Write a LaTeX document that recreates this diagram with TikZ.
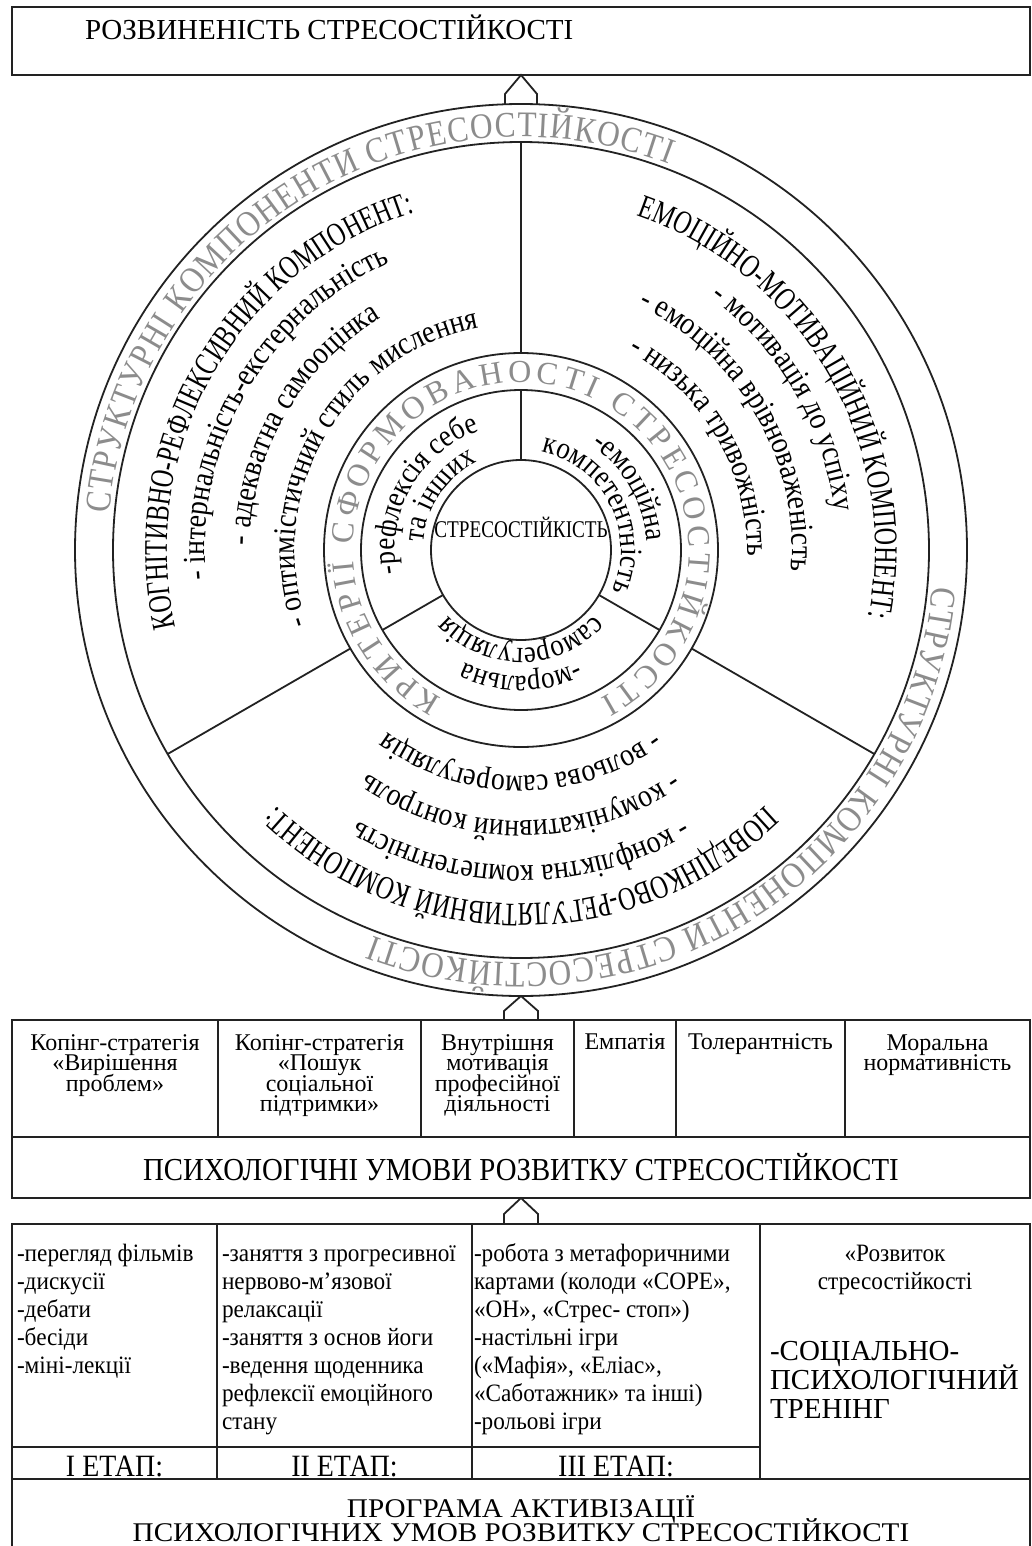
\documentclass[tikz,border=0pt]{standalone}
\usepackage{fontspec}
\setmainfont{Liberation Serif}
\newfontfamily\fN{Liberation Serif}
\newfontfamily\fH[FakeStretch=0.73]{Liberation Serif}
\newfontfamily\fK[FakeStretch=0.8]{Liberation Serif}
\newfontfamily\fL[FakeStretch=0.87]{Liberation Serif}
\newfontfamily\fM[FakeStretch=0.9]{Liberation Serif}
\newfontfamily\fP[FakeStretch=0.93]{Liberation Serif}
\newfontfamily\fW[FakeStretch=1.08]{Liberation Serif}
\usetikzlibrary{decorations.text}
\newcommand\sz[1]{\fontsize{#1}{#1}\selectfont}
\definecolor{linec}{HTML}{222222}
\definecolor{ringc}{HTML}{8C8C8C}
\newcommand\arctext[6]{%
  \path[shift={(521,-550)},decorate,decoration={text along path,text={|#4|#5},text align={#6}}]
    (#2:#1) arc[start angle=#2,end angle=#3,radius=#1];}
\begin{document}
\begin{tikzpicture}[x=1pt,y=1pt,line width=1.8pt,
  box/.style={draw=linec, rectangle, inner sep=0pt, outer sep=0pt},
  conn/.style={draw=linec, line width=1.8pt, line join=miter},
  tl/.style={inner sep=0pt, outer sep=0pt, anchor=base},
  tw/.style={inner sep=0pt, outer sep=0pt, anchor=base west}]
\useasboundingbox (0,0) rectangle (1032,-1546);
\fill[white] (0,0) rectangle (1032,-1546);

% top box
\node[box, minimum width=1018, minimum height=68, anchor=north west] (topbox) at (12,-7) {};
\node[tw, font=\fN\sz{29}] (title) at (85,-40) {РОЗВИНЕНІСТЬ СТРЕСОСТІЙКОСТІ};

% circles
\coordinate (Cc) at (521,-550);
\node[circle, draw=linec, minimum size=892, inner sep=0pt, outer sep=0pt] (ring) at (Cc) {};
\draw[linec] (Cc) circle[radius=408];
\draw[linec] (Cc) circle[radius=197];
\draw[linec] (Cc) circle[radius=160];
\draw[linec] (Cc) circle[radius=90];
\foreach \a in {90,210,330}{
  \draw[linec, shift={(521,-550)}] (\a:197) -- (\a:408);
  \draw[linec, shift={(521,-550)}] (\a:90) -- (\a:160);
}

% ring texts
\arctext{413}{175}{69}{\fL\sz{36}\color{ringc}}{СТРУКТУРНІ КОМПОНЕНТИ СТРЕСОСТІЙКОСТІ}{fit to path}
\arctext{413}{-5}{-111}{\fL\sz{36}\color{ringc}}{СТРУКТУРНІ КОМПОНЕНТИ СТРЕСОСТІЙКОСТІ}{fit to path}
\arctext{168}{242}{-62}{\fN\sz{32}\color{ringc}}{КРИТЕРІЇ СФОРМОВАНОСТІ СТРЕСОСТІЙКОСТІ}{fit to path}

% left sector
\arctext{354}{235}{65}{\fH\sz{33}}{КОГНІТИВНО-РЕФЛЕКСИВНИЙ КОМПОНЕНТ:}{center}
\arctext{316}{235}{65}{\fL\sz{32}}{- інтернальність-екстернальність}{center}
\arctext{271}{235}{65}{\fL\sz{32}}{- адекватна самооцінка}{center}
\arctext{226}{235}{65}{\fL\sz{32}}{- оптимістичний стиль мислення}{center}
% right sector
\arctext{354}{115}{-55}{\fH\sz{33}}{ЕМОЦІЙНО-МОТИВАЦІЙНИЙ КОМПОНЕНТ:}{center}
\arctext{316}{115}{-55}{\fL\sz{32}}{- мотивація до успіху}{center}
\arctext{271}{115}{-55}{\fL\sz{32}}{- емоційна врівноваженість}{center}
\arctext{226}{115}{-55}{\fL\sz{32}}{- низька тривожність}{center}
% bottom sector
\arctext{354}{355}{185}{\fH\sz{33}}{ПОВЕДІНКОВО-РЕГУЛЯТИВНИЙ КОМПОНЕНТ:}{center}
\arctext{316}{355}{185}{\fL\sz{32}}{- конфліктна компетентність}{center}
\arctext{271}{355}{185}{\fL\sz{32}}{- комунікативний контроль}{center}
\arctext{226}{355}{185}{\fL\sz{32}}{- вольова саморегуляція}{center}
% inner sectors
\arctext{126}{235}{65}{\fL\sz{31}}{-рефлексія себе}{center}
\arctext{98}{231}{61}{\fL\sz{31}}{та інших}{center}
\arctext{126}{115}{-55}{\fL\sz{31}}{-емоційна}{center}
\arctext{100}{112}{-58}{\fL\sz{31}}{компетентність}{center}
\arctext{126}{355}{185}{\fL\sz{31}}{-моральна}{center}
\arctext{98}{355}{185}{\fL\sz{31}}{саморегуляція}{center}
\node[tl, font=\fK\sz{24}] (core) at (521,-537) {СТРЕСОСТІЙКІСТЬ};

% arrow circle -> top box
\draw[conn] ([xshift=-16pt]ring.north) -- ++(0,10) -- (topbox.south) -- ([xshift=16pt,yshift=10pt]ring.north) -- ([xshift=16pt]ring.north);

% table 1
\node[box, minimum width=1018, minimum height=178, anchor=north west] (tab1) at (12,-1020) {};
\draw[conn] ([xshift=-17pt]tab1.north) -- ++(0,9) -- (ring.south) -- ([xshift=17pt,yshift=9pt]tab1.north) -- ([xshift=17pt]tab1.north);
\draw[linec] (12,-1137) -- (1030,-1137);
\foreach \x in {218,421,574,676,845} \draw[linec] (\x,-1020) -- (\x,-1137);
\foreach \t [count=\i from 0] in {Копінг-стратегія,«Вирішення,проблем»}
  \node[tl, font=\fN\sz{24}] (pa\i) at (115,{-1050-20.5*\i}) {\t};
\foreach \t [count=\i from 0] in {Копінг-стратегія,«Пошук,соціальної,підтримки»}
  \node[tl, font=\fN\sz{24}] (pb\i) at (319.5,{-1050-20.5*\i}) {\t};
\foreach \t [count=\i from 0] in {Внутрішня,мотивація,професійної,діяльності}
  \node[tl, font=\fN\sz{24}] (pc\i) at (497.5,{-1050-20.5*\i}) {\t};
\node[tl, font=\fN\sz{24}] (pd0) at (625,-1049) {Емпатія};
\node[tl, font=\fN\sz{24}] (pe0) at (760.5,-1049) {Толерантність};
\foreach \t [count=\i from 0] in {Моральна,нормативність}
  \node[tl, font=\fN\sz{24}] (pf\i) at (937.5,{-1050-20.5*\i}) {\t};
\node[tl, font=\fM\sz{32}] (cond) at (521,-1180) {ПСИХОЛОГІЧНІ УМОВИ РОЗВИТКУ СТРЕСОСТІЙКОСТІ};

% table 2
\node[box, minimum width=1018, minimum height=330, anchor=north west] (tab2) at (12,-1224) {};
\draw[conn] ([xshift=-17pt]tab2.north) -- ++(0,10) -- (tab1.south) -- ([xshift=17pt,yshift=10pt]tab2.north) -- ([xshift=17pt]tab2.north);
\foreach \x in {217,472,760} \draw[linec] (\x,-1224) -- (\x,-1479);
\draw[linec, line width=2.4pt] (12,-1447) -- (760,-1447);
\draw[linec] (12,-1479) -- (1030,-1479);
\foreach \t [count=\i from 0] in {-перегляд фільмів,-дискусії,-дебати,-бесіди,-міні-лекції}
  \node[tw, font=\fP\sz{25}] (qa\i) at (17,{-1261-28*\i}) {\t};
\foreach \t [count=\i from 0] in {-заняття з прогресивної,нервово-м’язової,релаксації,-заняття з основ йоги,-ведення щоденника,рефлексії емоційного,стану}
  \node[tw, font=\fP\sz{25}] (qb\i) at (222,{-1261-28*\i}) {\t};
\foreach \t [count=\i from 0] in {-робота з метафоричними,{картами (колоди «СОРЕ»,},{«ОН», «Стрес- стоп»)},-настільні ігри,{(«Мафія», «Еліас»,},«Саботажник» та інші),-рольові ігри}
  \node[tw, font=\fP\sz{25}] (qc\i) at (474,{-1261-28*\i}) {\t};
\node[tl, font=\fP\sz{25}] (qd0) at (895,-1261) {«Розвиток};
\node[tl, font=\fP\sz{25}] (qd1) at (895,-1289) {стресостійкості};
\foreach \t [count=\i from 0] in {-СОЦІАЛЬНО-,ПСИХОЛОГІЧНИЙ,ТРЕНІНГ}
  \node[tw, font=\fN\sz{29}] (qe\i) at (770,{-1360-29*\i}) {\t};
\node[tl, font=\fM\sz{31}] (st1) at (114.5,-1476) {I ЕТАП:};
\node[tl, font=\fM\sz{31}] (st2) at (344.5,-1476) {II ЕТАП:};
\node[tl, font=\fM\sz{31}] (st3) at (616,-1476) {III ЕТАП:};
\node[tl, font=\fW\sz{27}] (prog1) at (521,-1517) {ПРОГРАМА АКТИВІЗАЦІЇ};
\node[tl, font=\fW\sz{27}] (prog2) at (521,-1541) {ПСИХОЛОГІЧНИХ УМОВ РОЗВИТКУ СТРЕСОСТІЙКОСТІ};
\end{tikzpicture}
\end{document}
